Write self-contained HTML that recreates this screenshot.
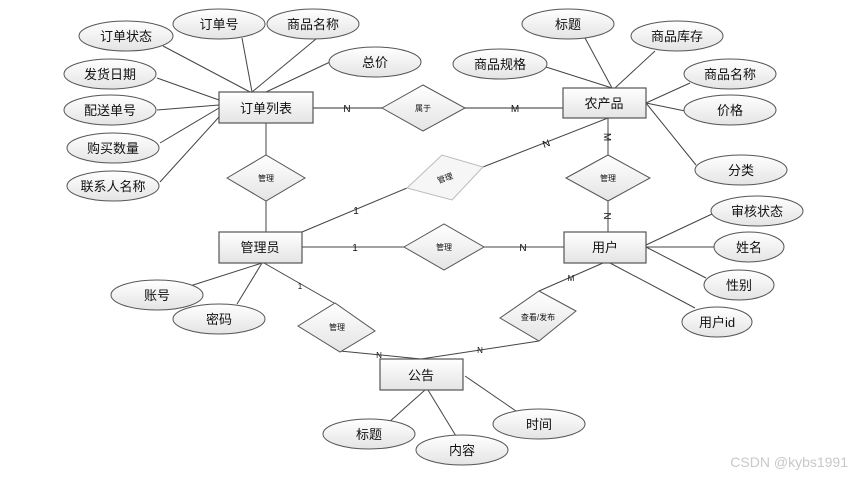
<!DOCTYPE html>
<html><head><meta charset="utf-8"><style>
body{margin:0;background:#fff}
svg{display:block}
text{font-family:"Liberation Sans","Noto Sans CJK SC",sans-serif;fill:#111}
</style></head><body>
<svg width="852" height="477" viewBox="0 0 852 477" xmlns="http://www.w3.org/2000/svg">
<defs>
<linearGradient id="g" x1="0" y1="0" x2="0" y2="1"><stop offset="0" stop-color="#ffffff"/><stop offset="1" stop-color="#e4e4e4"/></linearGradient>
</defs>
<g stroke="#444" stroke-width="1" fill="none">
<!-- order attrs -->
<line x1="163" y1="46" x2="250" y2="92"/>
<line x1="242" y1="38" x2="252" y2="92"/>
<line x1="316" y1="39" x2="252" y2="92"/>
<line x1="330" y1="62" x2="266" y2="92"/>
<line x1="157" y1="78" x2="219" y2="100"/>
<line x1="157" y1="110" x2="219" y2="105"/>
<line x1="160" y1="143" x2="219" y2="108"/>
<line x1="160" y1="182" x2="219" y2="117"/>
<!-- product attrs -->
<line x1="546" y1="67" x2="612" y2="88"/>
<line x1="585" y1="38" x2="612" y2="88"/>
<line x1="655" y1="51" x2="615" y2="88"/>
<line x1="690" y1="83" x2="646" y2="103"/>
<line x1="695" y1="113" x2="646" y2="103"/>
<line x1="696" y1="165" x2="646" y2="103"/>
<!-- user attrs -->
<line x1="712" y1="214" x2="646" y2="245"/>
<line x1="714" y1="247" x2="646" y2="247"/>
<line x1="706" y1="278" x2="646" y2="247"/>
<line x1="695" y1="308" x2="610" y2="263"/>
<!-- admin attrs -->
<line x1="190" y1="286" x2="262" y2="263"/>
<line x1="237" y1="304" x2="262" y2="263"/>
<!-- notice attrs -->
<line x1="388" y1="423" x2="425" y2="390"/>
<line x1="456" y1="436" x2="428" y2="390"/>
<line x1="516" y1="411" x2="465" y2="376"/>
<!-- relations -->
<line x1="313" y1="108" x2="382" y2="108" stroke="#777" stroke-width="1.5"/>
<line x1="465" y1="108" x2="563" y2="108" stroke="#777" stroke-width="1.5"/>
<line x1="266" y1="123" x2="266" y2="155"/>
<line x1="266" y1="201" x2="266" y2="232"/>
<line x1="302" y1="232" x2="407" y2="188"/>
<line x1="483" y1="167" x2="608" y2="118"/>
<line x1="608" y1="118" x2="608" y2="155"/>
<line x1="608" y1="201" x2="608" y2="232"/>
<line x1="302" y1="247" x2="404" y2="247"/>
<line x1="484" y1="247" x2="564" y2="247"/>
<line x1="264" y1="263" x2="334" y2="303"/>
<line x1="340" y1="351" x2="421" y2="359"/>
<line x1="421" y1="359" x2="539" y2="341"/>
<line x1="539" y1="291" x2="603" y2="263"/>
</g>
<!-- ellipses -->
<g fill="url(#g)" stroke="#555" stroke-width="1">
<ellipse cx="126" cy="36" rx="47" ry="15"/>
<ellipse cx="219" cy="24" rx="46" ry="15"/>
<ellipse cx="313" cy="24" rx="46" ry="15"/>
<ellipse cx="375" cy="62" rx="46" ry="15"/>
<ellipse cx="110" cy="74" rx="46" ry="15"/>
<ellipse cx="110" cy="110" rx="46" ry="15"/>
<ellipse cx="113" cy="148" rx="46" ry="15"/>
<ellipse cx="113" cy="186" rx="46" ry="15"/>
<ellipse cx="568" cy="24" rx="46" ry="15"/>
<ellipse cx="677" cy="36" rx="46" ry="15"/>
<ellipse cx="500" cy="64" rx="47" ry="15"/>
<ellipse cx="730" cy="74" rx="46" ry="15"/>
<ellipse cx="730" cy="110" rx="46" ry="15"/>
<ellipse cx="741" cy="170" rx="46" ry="15"/>
<ellipse cx="757" cy="211" rx="46" ry="15"/>
<ellipse cx="749" cy="247" rx="35" ry="15"/>
<ellipse cx="739" cy="285" rx="35" ry="15"/>
<ellipse cx="717" cy="322" rx="35" ry="15"/>
<ellipse cx="157" cy="295" rx="46" ry="15"/>
<ellipse cx="219" cy="319" rx="46" ry="15"/>
<ellipse cx="369" cy="434" rx="46" ry="15"/>
<ellipse cx="462" cy="450" rx="46" ry="15"/>
<ellipse cx="539" cy="424" rx="46" ry="15"/>
</g>
<!-- entities -->
<g fill="url(#g)" stroke="#555" stroke-width="1.2">
<rect x="219" y="92" width="94" height="31"/>
<rect x="563" y="88" width="83" height="30"/>
<rect x="219" y="232" width="83" height="31"/>
<rect x="564" y="232" width="82" height="31"/>
<rect x="380" y="359" width="83" height="31"/>
</g>
<!-- diamonds -->
<g fill="url(#g)" stroke="#555" stroke-width="1">
<polygon points="382,108 423,85 465,108 423,131"/>
<polygon points="227,178 266,155 305,178 266,201"/>
<polygon points="407,188 442,155 483,167 452,200" stroke="#bbb" fill="#f6f6f6"/>
<polygon points="566,178 608,155 650,178 608,201"/>
<polygon points="404,247 444,224 484,247 444,270"/>
<polygon points="298,326 335,303 375,331 340,352"/>
<polygon points="500,318 539,291 576,311 539,341"/>
</g>
<g font-size="13" text-anchor="middle">
<text x="126" y="41">订单状态</text>
<text x="219" y="29">订单号</text>
<text x="313" y="29">商品名称</text>
<text x="375" y="67">总价</text>
<text x="110" y="79">发货日期</text>
<text x="110" y="115">配送单号</text>
<text x="113" y="153">购买数量</text>
<text x="113" y="191">联系人名称</text>
<text x="568" y="29">标题</text>
<text x="677" y="41">商品库存</text>
<text x="500" y="69">商品规格</text>
<text x="730" y="79">商品名称</text>
<text x="730" y="115">价格</text>
<text x="741" y="175">分类</text>
<text x="757" y="216">审核状态</text>
<text x="749" y="252">姓名</text>
<text x="739" y="290">性别</text>
<text x="717" y="327">用户id</text>
<text x="157" y="300">账号</text>
<text x="219" y="324">密码</text>
<text x="369" y="439">标题</text>
<text x="462" y="455">内容</text>
<text x="539" y="429">时间</text>
<text x="266" y="113">订单列表</text>
<text x="604" y="108">农产品</text>
<text x="260" y="252">管理员</text>
<text x="605" y="252">用户</text>
<text x="421" y="380">公告</text>
</g>
<g font-size="8" text-anchor="middle">
<text x="423" y="111">属于</text>
<text x="266" y="181">管理</text>
<text x="445" y="181" fill="#999" transform="rotate(-20 445 178)">管理</text>
<text x="608" y="181">管理</text>
<text x="444" y="250">管理</text>
<text x="337" y="330">管理</text>
<text x="538" y="320">查看/发布</text>
</g>
<g font-size="10" text-anchor="middle">
<text x="347" y="112" fill="#222">N</text>
<text x="515" y="112">M</text>
<text x="356" y="214">1</text>
<text x="546" y="147" transform="rotate(-20 546 143)">N</text>
<text x="608" y="141" transform="rotate(90 608 137)">M</text>
<text x="608" y="220" transform="rotate(90 608 216)">N</text>
<text x="355" y="251">1</text>
<text x="523" y="251">N</text>
<text x="300" y="289" font-size="8">1</text>
<text x="379" y="358" font-size="8">N</text>
<text x="480" y="353" font-size="8">N</text>
<text x="571" y="281" font-size="8">M</text>
</g>
<text x="848" y="467" font-size="14" text-anchor="end" fill="#c8c8c8" style="fill:#c8c8c8">CSDN @kybs1991</text>
</svg>
</body></html>
